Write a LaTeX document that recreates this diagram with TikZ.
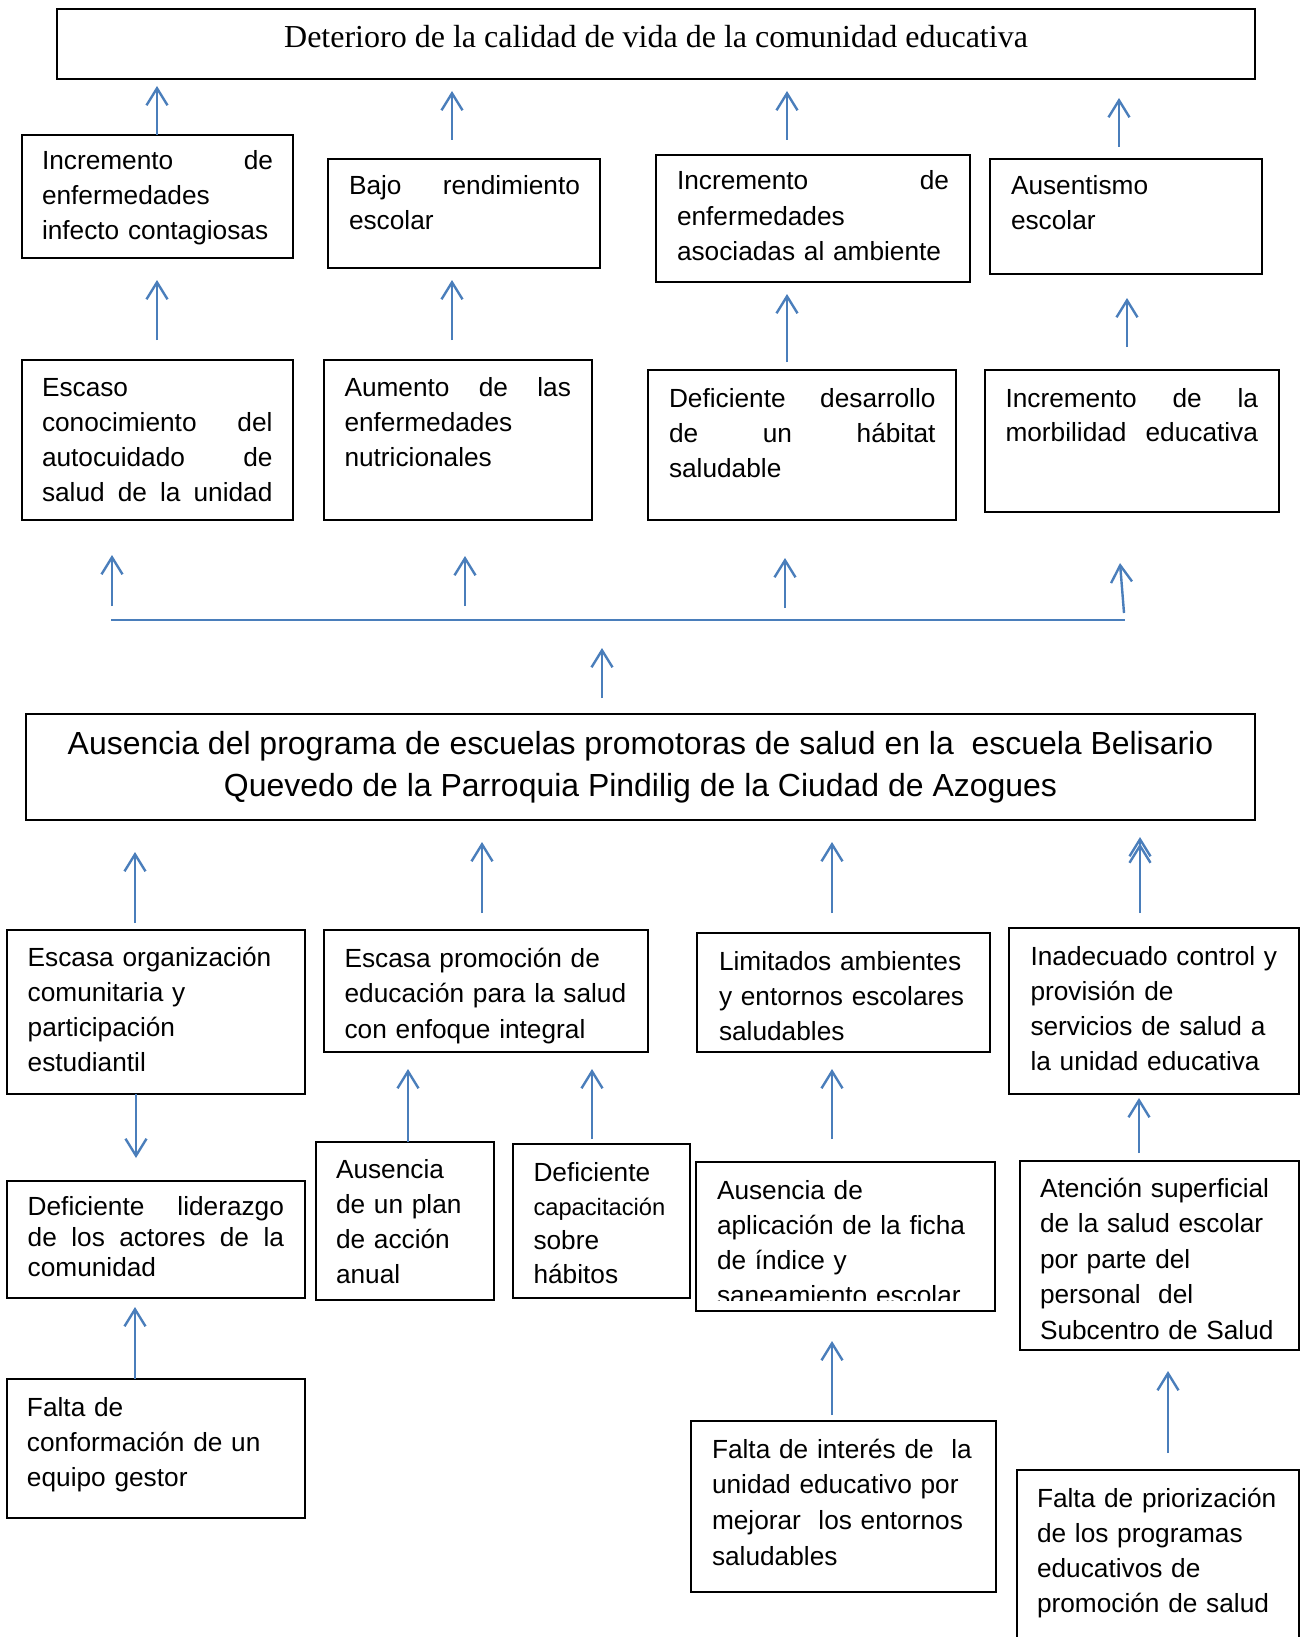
\documentclass[tikz,border=0pt]{standalone}
\usepackage{fontspec}
\setmainfont{Liberation Sans}
\newfontfamily\tnr{Liberation Serif}
\usetikzlibrary{arrows.meta}
\definecolor{ablue}{RGB}{74,126,187}
\begin{document}
\begin{tikzpicture}[x=1pt,y=-1pt,
  box/.style={draw=black, line width=1.8pt, inner sep=0pt, outer sep=0pt, anchor=north west},
  txt/.style={anchor=north west, inner sep=0pt, outer sep=0pt, align=left, font=\fontsize{26.25}{#1}\selectfont},
  txt/.default=35,
  arr/.style={draw=ablue, line width=2.4pt, -{Straight Barb[length=17pt,width=21pt]}},
  arrtwo/.style={draw=ablue, line width=2.4pt, -{Straight Barb[length=17pt,width=21pt,sep=-14pt]Straight Barb[length=17pt,width=21pt]}},
  bar/.style={draw=ablue, line width=2.4pt}]
\useasboundingbox (0,0) rectangle (1301,1637);
\fill[white] (0,0) rectangle (1301,1637);

% boxes
\node[box, minimum width=1198pt, minimum height=70pt] (T) at (57,9) {};
\node[box, minimum width=271pt, minimum height=123pt] (B1) at (22,135) {};
\node[box, minimum width=272pt, minimum height=109pt] (B2) at (328,159) {};
\node[box, minimum width=314pt, minimum height=127pt] (B3) at (656,155) {};
\node[box, minimum width=272pt, minimum height=115pt] (B4) at (990,159) {};
\node[box, minimum width=271pt, minimum height=160pt] (C1) at (22,360) {};
\node[box, minimum width=268pt, minimum height=160pt] (C2) at (324,360) {};
\node[box, minimum width=308pt, minimum height=150pt] (C3) at (648,370) {};
\node[box, minimum width=294pt, minimum height=142pt] (C4) at (985,370) {};
\node[box, minimum width=1229pt, minimum height=106pt] (M) at (26,714) {};
\node[box, minimum width=298pt, minimum height=164pt] (D1) at (7,930) {};
\node[box, minimum width=324pt, minimum height=122pt] (D2) at (324,930) {};
\node[box, minimum width=293pt, minimum height=119pt] (D3) at (697,933) {};
\node[box, minimum width=290pt, minimum height=166pt] (D4) at (1009,928) {};
\node[box, minimum width=298pt, minimum height=117pt] (E1) at (7,1181) {};
\node[box, minimum width=178pt, minimum height=158pt] (E2) at (316,1142) {};
\node[box, minimum width=177pt, minimum height=154pt] (E3) at (513,1144) {};
\node[box, minimum width=279pt, minimum height=189pt] (E5) at (1020,1161) {};
\node[box, minimum width=298pt, minimum height=139pt] (F1) at (7,1379) {};
\node[box, minimum width=305pt, minimum height=171pt] (F2) at (691,1421) {};
\node[box, minimum width=282pt, minimum height=180pt] (F3) at (1017,1470) {};

% texts
\node[anchor=base, inner sep=0pt, font=\tnr\fontsize{32}{38}\selectfont] (Tt) at (656,48) {Deterioro de la calidad de vida de la comunidad educativa};
\node[txt, text width=231pt] (B1t) at (42,145.5) {\strut Incremento\hfill de\\enfermedades\\infecto contagiosas};
\node[txt, text width=231pt] (B2t) at (349,170.5) {\strut Bajo\hfill rendimiento\\escolar};
\node[txt=35.5, text width=272pt] (B3t) at (677,165) {\strut Incremento\hfill de\\enfermedades\\asociadas al ambiente};
\node[txt, text width=240pt] (B4t) at (1011,170.5) {\strut Ausentismo\\escolar};
\node[txt=35.3, text width=230.5pt] (C1t) at (42,371.3) {\strut Escaso\\conocimiento\hfill del\\autocuidado\hfill de\\salud\hfill de\hfill la\hfill unidad};
\node[txt=35.3, text width=226.5pt] (C2t) at (344.5,371.3) {\strut Aumento\hfill de\hfill las\\enfermedades\\nutricionales};
\node[txt=35, text width=266.5pt] (C3t) at (669,382.5) {\strut Deficiente\hfill desarrollo\\de\hfill un\hfill hábitat\\saludable};
\node[txt=34, text width=252.5pt] (C4t) at (1005.5,383.2) {\strut Incremento\hfill de\hfill la\\morbilidad\hfill educativa};
\node[anchor=north, inner sep=0pt, align=center, font=\fontsize{31.95}{42}\selectfont] (Mt) at (640.5,724.6) {\strut Ausencia del programa de escuelas promotoras de salud en la\ \ escuela Belisario\\Quevedo de la Parroquia Pindilig de la Ciudad de Azogues};
\node[txt=35.3, text width=270pt] (D1t) at (27.7,941.3) {\strut Escasa organización\\comunitaria y\\participación\\estudiantil};
\node[txt=35.5, text width=300pt] (D2t) at (344.6,942.2) {\strut Escasa promoción de\\educación para la salud\\con enfoque integral};
\node[txt=35, text width=265pt] (D3t) at (719,945.5) {\strut Limitados ambientes\\y entornos escolares\\saludables};
\node[txt=35, text width=265pt] (D4t) at (1030.5,940.5) {\strut Inadecuado control y\\provisión de\\servicios de salud a\\la unidad educativa};
\node[txt=30.5, text width=256.3pt] (E1t) at (27.7,1194.6) {\strut Deficiente\hfill liderazgo\\de\hfill los\hfill actores\hfill de\hfill la\\comunidad};
\node[txt=35.3, text width=155pt] (E2t) at (336,1153.3) {\strut Ausencia\\de un plan\\de acción\\anual};
\node[txt=34, text width=154pt] (E3t) at (533.5,1157.2) {\strut Deficiente\\{\fontsize{23.7}{34}\selectfont capacitación}\\sobre\\hábitos};
\begin{scope}
\clip (696,1162) rectangle (995,1300);
\node[txt=35.3, text width=275pt] (E4t) at (717,1174.3) {\strut Ausencia de\\aplicación de la ficha\\de índice y\\saneamiento escolar};
\end{scope}
\node[box, minimum width=299pt, minimum height=149pt] (E4) at (696,1162) {};
\node[txt=35.5, text width=258pt] (E5t) at (1040,1172.2) {\strut Atención superficial\\de la salud escolar\\por parte del\\personal\ \ del\\Subcentro de Salud};
\node[txt=35, text width=275pt] (F1t) at (27,1391.5) {\strut Falta de\\conformación de un\\equipo gestor};
\node[txt=35.7, text width=282pt] (F2t) at (712,1433) {\strut Falta de interés de\ \ la\\unidad educativo por\\mejorar\ \ los entornos\\saludables};
\node[txt=35, text width=260pt] (F3t) at (1037,1482.5) {\strut Falta de priorización\\de los programas\\educativos de\\promoción de salud};

% arrows to top
\draw[arr] ([xshift=135pt]B1.north west) -- ([xshift=100pt,yshift=-7pt]T.south west);
\draw[arr] ([xshift=124pt,yshift=19pt]B2.north west) -- ([xshift=395pt,yshift=-12pt]T.south west);
\draw[arr] ([xshift=131pt,yshift=15pt]B3.north west) -- ([xshift=730pt,yshift=-12pt]T.south west);
\draw[arr] ([xshift=129pt,yshift=12pt]B4.north west) -- ([xshift=1062pt,yshift=-19pt]T.south west);
\draw[arr] ([xshift=135pt,yshift=20pt]C1.north west) -- ([xshift=135pt,yshift=-22pt]B1.south west);
\draw[arr] ([xshift=128pt,yshift=20pt]C2.north west) -- ([xshift=124pt,yshift=-12pt]B2.south west);
\draw[arr] ([xshift=139pt,yshift=8pt]C3.north west) -- ([xshift=131pt,yshift=-12pt]B3.south west);
\draw[arr] ([xshift=142pt,yshift=23pt]C4.north west) -- ([xshift=137pt,yshift=-24pt]B4.south west);

% bar
\coordinate (barL) at (111,620);
\coordinate (barR) at (1125,620);
\draw[bar] (barL) -- (barR);
\draw[arr] ([xshift=1pt,yshift=14pt]barL) -- ([xshift=90pt,yshift=-35pt]C1.south west);
\draw[arr] ([xshift=354pt,yshift=14pt]barL) -- ([xshift=141pt,yshift=-36pt]C2.south west);
\draw[arr] ([xshift=674pt,yshift=12pt]barL) -- ([xshift=137pt,yshift=-38pt]C3.south west);
\draw[arr] ([xshift=-1pt,yshift=7pt]barR) -- ([xshift=135pt,yshift=-51pt]C4.south west);
\draw[arr] ([xshift=576pt,yshift=16pt]M.north west) -- ([xshift=491pt,yshift=-28pt]barL);

% causes
\draw[arr] ([xshift=128pt,yshift=7pt]D1.north west) -- ([xshift=109pt,yshift=-32pt]M.south west);
\draw[arr] ([xshift=158pt,yshift=17pt]D2.north west) -- ([xshift=456pt,yshift=-22pt]M.south west);
\draw[arr] ([xshift=135pt,yshift=20pt]D3.north west) -- ([xshift=806pt,yshift=-22pt]M.south west);
\draw[arrtwo] ([xshift=131pt,yshift=15pt]D4.north west) -- ([xshift=1114pt,yshift=-17pt]M.south west);
\draw[arr] ([xshift=129pt]D1.south west) -- ([xshift=129pt,yshift=23pt]E1.north west);
\draw[arr] ([xshift=92pt]E2.north west) -- ([xshift=84pt,yshift=-17pt]D2.south west);
\draw[arr] ([xshift=79pt,yshift=5pt]E3.north west) -- ([xshift=268pt,yshift=-17pt]D2.south west);
\draw[arr] ([xshift=136pt,yshift=23pt]E4.north west) -- ([xshift=135pt,yshift=-17pt]D3.south west);
\draw[arr] ([xshift=119pt,yshift=8pt]E5.north west) -- ([xshift=130pt,yshift=-4pt]D4.south west);
\draw[arr] ([xshift=128pt]F1.north west) -- ([xshift=128pt,yshift=-9pt]E1.south west);
\draw[arr] ([xshift=141pt,yshift=6pt]F2.north west) -- ([xshift=136pt,yshift=-30pt]E4.south west);
\draw[arr] ([xshift=151pt,yshift=17pt]F3.north west) -- ([xshift=148pt,yshift=-21pt]E5.south west);
\end{tikzpicture}
\end{document}
